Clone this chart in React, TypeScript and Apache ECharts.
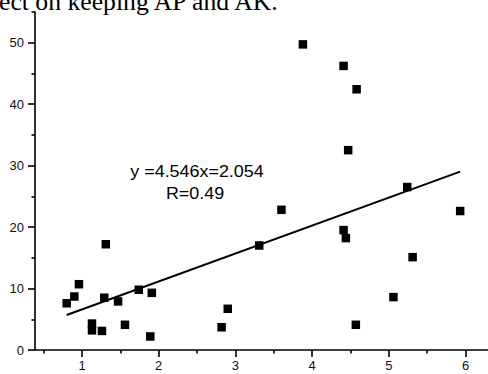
import React, { useEffect, useRef } from "react";
import * as echarts from "echarts";

const xValues = [1.31, 0.96, 0.9, 0.8, 1.29, 1.47, 1.74, 1.91, 1.13, 1.13, 1.26, 1.56, 1.89, 3.31, 2.9, 2.82, 3.88, 4.41, 4.58, 4.47, 5.24, 5.93, 4.41, 4.44, 5.31, 5.06, 4.57, 3.6];
const yValues = [17.2, 10.7, 8.7, 7.6, 8.5, 7.9, 9.8, 9.3, 4.3, 3.2, 3.1, 4.1, 2.2, 17.0, 6.7, 3.7, 49.7, 46.2, 42.4, 32.5, 26.5, 22.6, 19.5, 18.2, 15.1, 8.6, 4.1, 22.8];
const xMajorTicks = [1, 2, 3, 4, 5, 6];
const xMinorTicks = [0.5, 1.5, 2.5, 3.5, 4.5, 5.5];
const yMajorTicks = [0, 10, 20, 30, 40, 50];
const yMinorTicks = [5, 15, 25, 35, 45, 55];
const slope = 4.546;
const intercept = 2.054;
const equationText = "y =4.546x=2.054";
const rText = "R=0.49";
const captionText = "ect on keeping AP and AK.";

export default function App() {
  const ref = useRef<HTMLDivElement>(null);
  useEffect(() => {
    if (!ref.current) return;
    const chart = echarts.init(ref.current, null, { renderer: "svg" });
    const xMin = Math.min(...xValues);
    const xMax = Math.max(...xValues);
    const fitLine = [
      [xMin, slope * xMin + intercept],
      [xMax, slope * xMax + intercept],
    ];
    const font = "Liberation Sans";
    const axisLine = { show: true, lineStyle: { color: "#000", width: 1.6 } };
    chart.setOption({
      animation: false,
      grid: { left: 35, right: 0, top: 11.8, bottom: 24, containLabel: false },
      xAxis: [
        {
          type: "value",
          min: 0.387,
          max: 6.293,
          position: "bottom",
          axisLine,
          splitLine: { show: false },
          axisTick: { show: true, inside: false, length: 7, customValues: xMajorTicks, lineStyle: { color: "#000", width: 1.6 } },
          axisLabel: { customValues: xMajorTicks, fontSize: 13, fontFamily: font, color: "#111", margin: 9 },
        },
        {
          type: "value",
          min: 0.387,
          max: 6.293,
          position: "bottom",
          axisLine: { show: false },
          splitLine: { show: false },
          axisTick: { show: true, inside: false, length: 3.5, customValues: xMinorTicks, lineStyle: { color: "#000", width: 1.6 } },
          axisLabel: { show: false },
        },
      ],
      yAxis: [
        {
          type: "value",
          min: 0,
          max: 55,
          position: "left",
          axisLine,
          splitLine: { show: false },
          axisTick: { show: true, inside: false, length: 7, customValues: yMajorTicks, lineStyle: { color: "#000", width: 1.6 } },
          axisLabel: { customValues: yMajorTicks, fontSize: 13, fontFamily: font, color: "#111", margin: 11 },
        },
        {
          type: "value",
          min: 0,
          max: 55,
          position: "left",
          axisLine: { show: false },
          splitLine: { show: false },
          axisTick: { show: true, inside: false, length: 3.5, customValues: yMinorTicks, lineStyle: { color: "#000", width: 1.6 } },
          axisLabel: { show: false },
        },
      ],
      series: [
        {
          type: "line",
          data: fitLine,
          showSymbol: false,
          symbol: "none",
          lineStyle: { color: "#000", width: 2 },
          z: 2,
        },
        {
          type: "scatter",
          data: xValues.map((x, i) => [x, yValues[i]]),
          symbol: "rect",
          symbolSize: 8.5,
          itemStyle: { color: "#000", opacity: 1 },
          z: 3,
        },
      ],
      graphic: [
        {
          type: "text",
          x: -1,
          y: 1,
          style: { text: captionText, fontSize: 25.7, fontFamily: "Liberation Serif", fill: "#000", align: "left", verticalAlign: "middle" },
        },
        {
          type: "text",
          x: 197,
          y: 171.8,
          scaleX: 1.12,
          style: { text: equationText, fontSize: 16, fontFamily: font, fill: "#000", align: "center", verticalAlign: "middle" },
        },
        {
          type: "text",
          x: 195,
          y: 193.8,
          scaleX: 1.12,
          style: { text: rText, fontSize: 16, fontFamily: font, fill: "#000", align: "center", verticalAlign: "middle" },
        },
      ],
    });
    return () => chart.dispose();
  }, []);
  return <div ref={ref} style={{ position: "absolute", left: 0, top: 0, width: 488, height: 374 }} />;
}
